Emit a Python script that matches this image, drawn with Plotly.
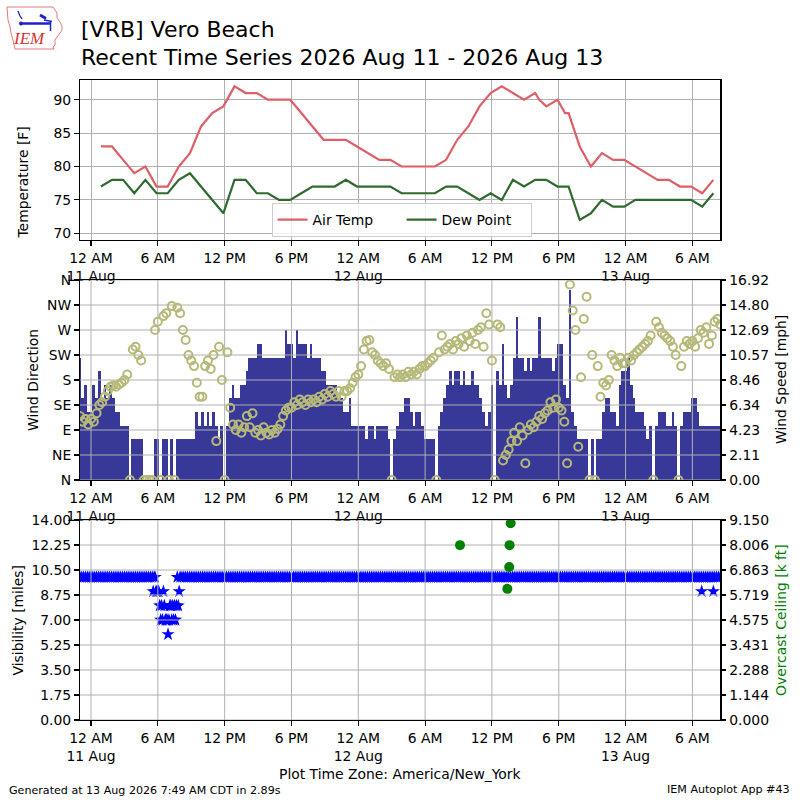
import pandas as pd
import plotly.graph_objects as go

# ---------------------------------------------------------------- data
# hourly METAR observations (at :53) 2026-08-11 00:53 .. 2026-08-13 07:53
AIR_TEMP_HOURLY = [83, 83, 81, 79, 80, 77, 77, 80, 82, 86,
                   88, 89, 92, 91, 91, 90, 90, 90, 88, 86,
                   84, 84, 84, 83, 82, 81, 81, 80, 80, 80,
                   80, 81, 84, 86, 89, 91, 92, 91, 90, 91,
                   89, 90, 88, 83, 80, 82, 81, 81, 80, 79,
                   78, 78, 77, 77, 76, 78]
DEW_POINT_HOURLY = [77, 78, 78, 76, 78, 76, 76, 78, 79, 77,
                    75, 73, 78, 78, 76, 76, 75, 75, 76, 77,
                    77, 77, 78, 77, 77, 77, 77, 76, 76, 76,
                    76, 77, 77, 76, 75, 76, 75, 78, 77, 78,
                    78, 77, 77, 72, 73, 75, 74, 74, 75, 75,
                    75, 75, 75, 75, 74, 76]
HOURLY_FIRST = "2026-08-11 00:53"
SPECI_TIMES = ["2026-08-12 16:15", "2026-08-12 18:34"]
SPECI_AIR = [90, 88]
SPECI_DEW = [78, 77]

# wind, 15-minute samples from 2026-08-10 23:00 (one row per hour)
WIND_FIRST = "2026-08-10 23:00"
WIND_SPEED_KT = [
    9, 6, 7, 5,   5, 7, 6, 8,   6, 7, 6, 7,   6, 5, 5, 4,      # 23,00,01,02
    4, 4, 0, 3,   3, 3, 3, 0,   0, 0, 0, 3,   3, 0, 3, 3,      # 03-06
    0, 3, 0, 3,   3, 3, 3, 3,   3, 3, 5, 4,   5, 4, 5, 4,      # 07-10
    5, 4, 3, 4,   0, 4, 6, 7,   6, 6, 7, 7,   8, 9, 9, 9,      # 11-14
    10, 10, 9, 9, 9, 9, 9, 9,   9, 9, 11, 10, 10, 9, 11, 10,   # 15-18
    10, 10, 9, 10, 9, 9, 9, 8,  8, 7, 7, 7,   7, 6, 6, 5,      # 19-22
    5, 6, 4, 4,   4, 4, 4, 3,   4, 4, 3, 4,   4, 4, 4, 3,      # 23, 12 Aug 00-02
    0, 3, 4, 5,   5, 6, 6, 5,   4, 5, 5, 4,   3, 3, 3, 3,      # 03-06
    0, 4, 5, 6,   7, 8, 7, 8,   8, 7, 8, 7,   7, 8, 7, 7,      # 07-10
    6, 5, 4, 5,   7, 0, 8, 7,   10, 7, 6, 7,  9, 12, 9, 9,     # 11-14
    8, 9, 8, 9,   9, 12, 9, 9,  9, 9, 8, 9,   10, 10, 7, 6,    # 15-18
    14, 5, 4, 3,  3, 3, 3, 0,   3, 0, 3, 3,   5, 6, 6, 5,      # 19-22
    5, 4, 7, 8,   8, 9, 7, 6,   5, 5, 5, 4,   3, 4, 0, 4,      # 23, 13 Aug 00-02
    5, 5, 5, 4,   4, 5, 4, 0,   4, 5, 5, 5,   6, 6, 5, 4,      # 03-06
    4, 4, 4, 4,   4, 4, 4,                                     # 07-08
]
WIND_DIR_DEG = [
    115, 105, 110, 100,  110, 105, 120, 135,  140, 150, 160, 168,  170, 168, 172, 175,
    180, 190, 0, 235,    240, 225, 215, 0,    0, 0, 0, 270,        285, 0, 295, 300,
    0, 313, 0, 310,      300, 270, 252, 225,  215, 205, 175, 150,  150, 205, 215, 200,
    225, 70, 240, 180,   0, 230, 130, 100,    90, 100, 85, 95,     115, 95, 120, 85,
    90, 80, 95, 85,      82, 90, 85, 92,      100, 115, 125, 130,  130, 140, 135, 145,
    140, 135, 145, 140,  145, 140, 150, 145,  155, 150, 160, 155,  150, 160, 150, 160,
    160, 165, 175, 185,  190, 205, 235, 250,  252, 230, 225, 215,  210, 205, 210, 200,
    0, 185, 190, 185,    190, 185, 195, 190,  195, 190, 200, 205,  205, 210, 215, 220,
    0, 230, 260, 235,    240, 245, 235, 250,  245, 255, 240, 260,  250, 265, 245, 270,
    275, 240, 300, 280,  215, 0, 280, 275,    35, 45, 55, 70,      85, 70, 95, 80,
    30, 90, 100, 95,     105, 115, 110, 120,  125, 140, 130, 145,  130, 125, 105, 30,
    352, 305, 270, 60,   185, 290, 330, 0,    225, 0, 205, 150,    175, 170, 180, 225,
    215, 205, 220, 210,  210, 220, 215, 225,  230, 235, 240, 245,  250, 260, 0, 285,
    275, 265, 260, 255,  250, 240, 225, 0,    205, 240, 250, 245,  250, 240, 255, 270,
    265, 275, 245, 260,  285, 290, 280,
]
KT_TO_MPH = 1.15078

# visibility: steady 10 mile readings (10-minute runs) plus the dips
VIS_RUNS = [("2026-08-10 23:00", "2026-08-11 05:30", 10.0),
            ("2026-08-11 08:00", "2026-08-13 08:30", 10.0)]
VIS_DIP_TIMES = ["2026-08-11 05:35", "2026-08-11 05:40", "2026-08-11 05:45", "2026-08-11 05:50",
                 "2026-08-11 05:55", "2026-08-11 06:00", "2026-08-11 06:05", "2026-08-11 06:10",
                 "2026-08-11 06:15", "2026-08-11 06:20", "2026-08-11 06:25", "2026-08-11 06:30",
                 "2026-08-11 06:35", "2026-08-11 06:40", "2026-08-11 06:45", "2026-08-11 06:50",
                 "2026-08-11 06:55", "2026-08-11 07:00", "2026-08-11 07:05", "2026-08-11 07:10",
                 "2026-08-11 07:15", "2026-08-11 07:20", "2026-08-11 07:25", "2026-08-11 07:30",
                 "2026-08-11 07:35", "2026-08-11 07:40", "2026-08-11 07:45", "2026-08-11 07:50",
                 "2026-08-11 07:55", "2026-08-13 06:50", "2026-08-13 07:53"]
VIS_DIP_MILES = [9, 10, 10, 9, 9, 9, 9, 8, 7, 8, 7, 9, 8, 7, 7, 7,
                 6, 7, 8, 8, 7, 8, 7, 8, 7, 8, 10, 8, 9, 9, 9]

CEIL_TIMES = ["2026-08-12 09:08", "2026-08-12 13:23", "2026-08-12 13:33",
              "2026-08-12 13:35", "2026-08-12 13:41"]
CEIL_KFT = [8.0, 6.0, 7.0, 8.0, 9.0]

TICK_TIMES = ["2026-08-11 00:00", "2026-08-11 06:00", "2026-08-11 12:00", "2026-08-11 18:00",
              "2026-08-12 00:00", "2026-08-12 06:00", "2026-08-12 12:00", "2026-08-12 18:00",
              "2026-08-13 00:00", "2026-08-13 06:00"]
TICK_LABELS = ["12 AM<br>11 Aug", "6 AM", "12 PM", "6 PM", "12 AM<br>12 Aug",
               "6 AM", "12 PM", "6 PM", "12 AM<br>13 Aug", "6 AM"]
TEMP_TICKS = [70, 75, 80, 85, 90]
DIR_TICKS = [0, 45, 90, 135, 180, 225, 270, 315, 360]
DIR_LABELS = ["N", "NE", "E", "SE", "S", "SW", "W", "NW", "N"]

# ---------------------------------------------------------------- style
FONT = "DejaVu Sans"
FS = 13.9
GRID = "#b0b0b0"
RED = "#de5f67"
GREEN = "#2f6a2f"
BARBLUE = "#383898"
OLIVE = "#b7b979"
X_RANGE = ["2026-08-10 23:00:40", "2026-08-13 08:31:20"]
VIS_MAX = 14.0
CEIL_MAX = 9.15

# ---------------------------------------------------------------- prep
hourly_t = list(pd.date_range(HOURLY_FIRST, periods=len(AIR_TEMP_HOURLY), freq="h"))
tdf = pd.DataFrame({
    "t": hourly_t + list(pd.to_datetime(SPECI_TIMES)),
    "air": AIR_TEMP_HOURLY + SPECI_AIR,
    "dew": DEW_POINT_HOURLY + SPECI_DEW,
}).sort_values("t")

wind_t = pd.date_range(WIND_FIRST, periods=len(WIND_SPEED_KT), freq="15min")
wind_mph = [k * KT_TO_MPH for k in WIND_SPEED_KT]
smax = max(wind_mph) * 1.05

vis_t, vis_v = [], []
for start, end, val in VIS_RUNS:
    rng = pd.date_range(start, end, freq="10min")
    vis_t += list(rng)
    vis_v += [val] * len(rng)
vis_t += list(pd.to_datetime(VIS_DIP_TIMES))
vis_v += VIS_DIP_MILES

tick_dt = pd.to_datetime(TICK_TIMES)


def grid_trace(xaxis, yaxis, ylo, yhi, yticks):
    xs, ys = [], []
    for t in tick_dt:
        xs += [t, t, None]
        ys += [ylo, yhi, None]
    for v in yticks:
        xs += [pd.Timestamp(X_RANGE[0]), pd.Timestamp(X_RANGE[1]), None]
        ys += [v, v, None]
    return go.Scatter(x=xs, y=ys, mode="lines", line=dict(color=GRID, width=1),
                      xaxis=xaxis, yaxis=yaxis, showlegend=False, hoverinfo="skip")


fig = go.Figure()

# top panel
fig.add_trace(go.Scatter(x=tdf["t"], y=tdf["air"], mode="lines", name="Air Temp",
                         line=dict(color=RED, width=2.2), xaxis="x", yaxis="y"))
fig.add_trace(go.Scatter(x=tdf["t"], y=tdf["dew"], mode="lines", name="Dew Point",
                         line=dict(color=GREEN, width=2.2), xaxis="x", yaxis="y"))

# middle panel
fig.add_trace(go.Bar(x=wind_t, y=wind_mph, width=15 * 60 * 1000, marker=dict(color=BARBLUE, line=dict(width=0)),
                     xaxis="x2", yaxis="y2", showlegend=False))
fig.add_trace(grid_trace("x2", "y3", 0, 360, DIR_TICKS))
fig.add_trace(go.Scatter(x=wind_t, y=WIND_DIR_DEG, mode="markers",
                         marker=dict(symbol="circle-open", size=8, color=OLIVE, line=dict(width=2, color=OLIVE)),
                         xaxis="x2", yaxis="y3", showlegend=False))

# bottom panel
ceil_ticks = [CEIL_MAX * i / 8 for i in range(9)]
fig.add_trace(go.Scatter(x=vis_t, y=vis_v, mode="markers",
                         marker=dict(symbol="star", size=10, color="#0000ff", line=dict(width=0)),
                         xaxis="x3", yaxis="y4", showlegend=False))
fig.add_trace(grid_trace("x3", "y5", 0, CEIL_MAX, ceil_ticks))
fig.add_trace(go.Scatter(x=pd.to_datetime(CEIL_TIMES), y=CEIL_KFT, mode="markers",
                         marker=dict(symbol="circle", size=10, color="#008000", line=dict(width=0)),
                         xaxis="x3", yaxis="y5", showlegend=False))

XD = [0.1, 0.9006]
xcommon = dict(type="date", range=X_RANGE, tickmode="array", tickvals=tick_dt, ticktext=TICK_LABELS,
               showline=True, linecolor="black", linewidth=1.1, mirror=True, ticks="outside",
               ticklen=4.9, tickwidth=1.1, tickcolor="black", tickfont=dict(size=FS, color="black"),
               zeroline=False, automargin=False, domain=XD, gridcolor=GRID, gridwidth=1)
ycommon = dict(showline=True, linecolor="black", linewidth=1.1, ticks="outside", ticklen=4.9,
               tickwidth=1.1, tickcolor="black", tickfont=dict(size=FS, color="black"),
               zeroline=False, automargin=False, gridcolor=GRID, gridwidth=1)

speed_ticks = [smax * i / 8 for i in range(9)]
vis_ticks = [VIS_MAX * i / 8 for i in range(9)]

fig.update_layout(
    width=800, height=800, margin=dict(l=0, r=0, t=0, b=0),
    paper_bgcolor="white", plot_bgcolor="white",
    font=dict(family=FONT, size=FS, color="black"),
    hovermode=False, bargap=0, barmode="overlay",
    xaxis=dict(xcommon, anchor="y", showgrid=True),
    xaxis2=dict(xcommon, anchor="y2", matches="x", showgrid=False),
    xaxis3=dict(xcommon, anchor="y4", matches="x", showgrid=False),
    yaxis=dict(ycommon, domain=[0.7, 0.9], anchor="x", range=[69.0, 92.95], tickvals=TEMP_TICKS,
               showgrid=True, mirror=True),
    yaxis2=dict(ycommon, domain=[0.4, 0.65], anchor="x2", side="right", range=[0, smax],
                tickvals=speed_ticks, ticktext=[f"{v:.2f}" for v in speed_ticks], showgrid=False),
    yaxis3=dict(ycommon, overlaying="y2", anchor="x2", side="left", range=[0, 360],
                tickvals=DIR_TICKS, ticktext=DIR_LABELS, showgrid=False),
    yaxis4=dict(ycommon, domain=[0.1, 0.35], anchor="x3", side="left", range=[0, VIS_MAX],
                tickvals=vis_ticks, ticktext=[f"{v:.2f}" for v in vis_ticks], showgrid=False),
    yaxis5=dict(ycommon, overlaying="y4", anchor="x3", side="right", range=[0, CEIL_MAX],
                tickvals=ceil_ticks, ticktext=[f"{v:.3f}" for v in ceil_ticks], showgrid=False),
    legend=dict(orientation="h", x=0.502, xanchor="center", y=1 - 237 / 800, yanchor="bottom",
                bgcolor="rgba(255,255,255,0.8)", bordercolor="#cccccc", borderwidth=1,
                font=dict(size=FS), itemwidth=30, tracegroupgap=0,
                entrywidth=84, entrywidthmode="pixels"),
)


def ann(text, x, y, size=FS, xanchor="center", angle=0, color="black", family=FONT, **kw):
    return dict(text=text, x=x / 800, y=1 - y / 800, xref="paper", yref="paper", showarrow=False,
                xanchor=xanchor, yanchor="middle", textangle=angle,
                font=dict(size=size, color=color, family=family), **kw)


annotations = [
    ann("[VRB] Vero Beach", 79, 29.5, size=22, xanchor="left"),
    ann("Recent Time Series 2026 Aug 11 - 2026 Aug 13", 79, 57, size=22, xanchor="left"),
    ann("Temperature [F]", 22.5, 183, angle=-90),
    ann("Wind Direction", 33, 380, angle=-90),
    ann("Wind Speed [mph]", 781, 380, angle=-90),
    ann("Visibility [miles]", 17.5, 620, angle=-90),
    ann("Overcast Ceiling [k ft]", 781, 620, angle=-90, color="#008000"),
    ann("Plot Time Zone: America/New_York", 400, 774),
    ann("Generated at 13 Aug 2026 7:49 AM CDT in 2.89s", 7, 790, size=11.1, xanchor="left"),
    ann("IEM Autoplot App #43", 792, 789, size=11.1, xanchor="right"),
    ann("<i>IEM</i>", 29, 38.5, size=17, color="#d83030", family="Liberation Serif"),
]
fig.update_layout(annotations=annotations)


def P(pts, close=False):
    s = "M " + " L ".join(f"{a / 800:.5f},{1 - b / 800:.5f}" for a, b in pts)
    return s + (" Z" if close else "")


outline = [(7, 7), (53, 7), (55, 10), (57, 13), (57, 18), (60, 22), (62, 26), (62, 30), (60, 33),
           (57, 37), (55, 40), (55, 45), (53, 47), (54, 49), (15, 49), (13, 40), (11, 33),
           (10, 27), (8, 20)]
shapes = [
    dict(type="path", path=P(outline, True), xref="paper", yref="paper",
         line=dict(color="#e87878", width=1), layer="above"),
    dict(type="path", path=P([(22, 23.5), (50, 23.5)]), xref="paper", yref="paper",
         line=dict(color="#1f1fd0", width=2.5), layer="above"),
    dict(type="path", path=P([(40, 15), (46, 18.5)]), xref="paper", yref="paper",
         line=dict(color="#1f1fd0", width=3), layer="above"),
    dict(type="path", path=P([(44, 20), (52, 21.5)]), xref="paper", yref="paper",
         line=dict(color="#1f1fd0", width=1.5), layer="above"),
    dict(type="path", path=P([(50.5, 22), (50.5, 31)]), xref="paper", yref="paper",
         line=dict(color="#1f1fd0", width=1.5), layer="above"),
    dict(type="path", path=P([(18, 11), (20, 16), (22, 19)]), xref="paper", yref="paper",
         line=dict(color="#1f1fd0", width=1.3), layer="above"),
    dict(type="circle", x0=19 / 800, x1=23 / 800, y0=1 - 25.5 / 800, y1=1 - 21.5 / 800,
         xref="paper", yref="paper", fillcolor="#1f1fd0", line=dict(width=0), layer="above"),
]
fig.update_layout(shapes=shapes)

fig.write_html("out.html", config={"displayModeBar": False, "staticPlot": True},
               post_script="document.body.style.margin='0px';document.body.style.padding='0px';"
                           "document.documentElement.style.overflow='hidden';")
